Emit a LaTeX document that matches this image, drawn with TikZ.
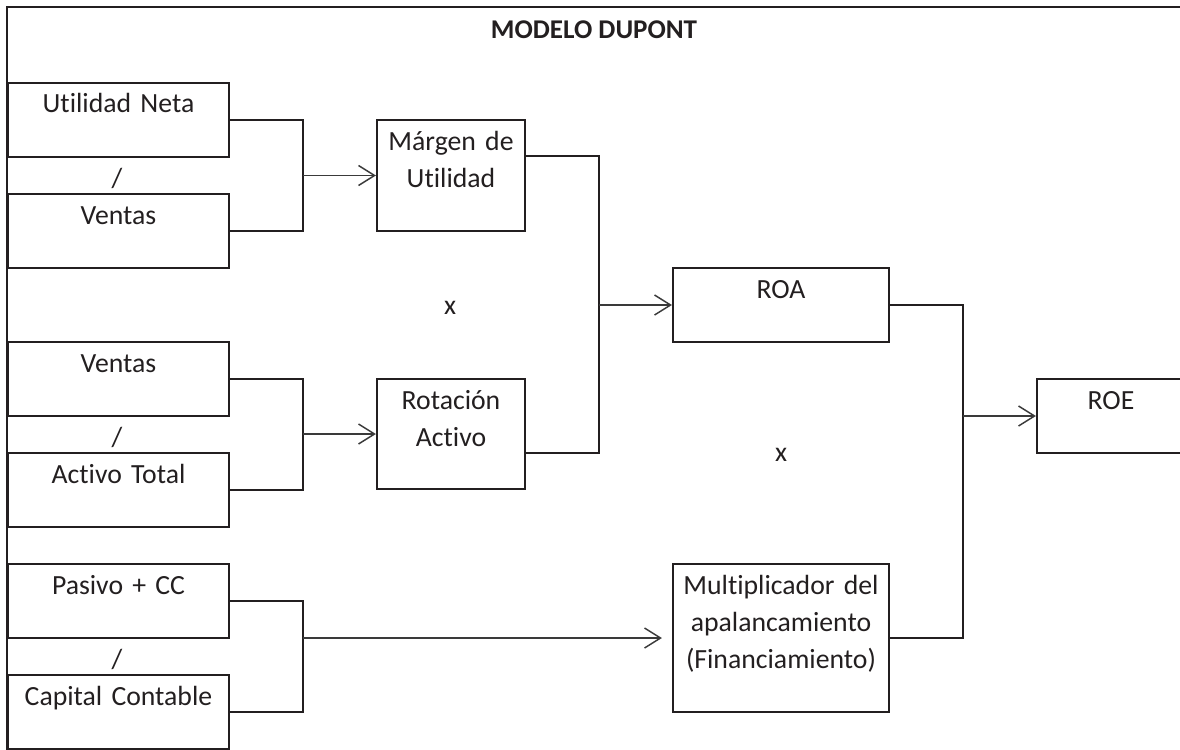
\documentclass[tikz,border=0pt]{standalone}
\usepackage{fontspec}
\setmainfont[Ligatures=NoCommon]{Carlito}
\usetikzlibrary{arrows.meta,fit,calc}
\definecolor{ink}{HTML}{231F20}
\definecolor{wire}{HTML}{3A3A3A}
\begin{document}
\begin{tikzpicture}[x=0.75pt, y=-0.75pt,
  blk/.style={draw=ink, line width=1.65pt, inner sep=0pt},
  lbl/.style={anchor=base, align=center, text width=170pt, inner sep=0pt, text=ink,
              font=\fontsize{20.8pt}{27.75pt}\selectfont},
  sym/.style={inner sep=0pt, text=ink, font=\fontsize{20.8pt}{27.75pt}\selectfont},
  link/.style={draw=ink, line width=1.65pt, line join=miter},
  feed/.style={draw=wire, line width=1.1pt,
               -{Straight Barb[length=12pt,width=15pt,line width=1.1pt]}},
  outline/.style={draw=ink, line width=1.6pt}]
\useasboundingbox (0,0) rectangle (1180,749);
\clip (0,0) rectangle (1180,749);

% outer frame (top and left sides only)
\draw[outline] (1190,7) -- (7,7) -- (7,760);

\node[sym, font=\fontsize{20.3pt}{24pt}\selectfont\bfseries] (title) at (594,30) {MODELO DUPONT};

% ratio inputs
\node[blk, fit={(8,83)(229,157)}] (un) {};
\node[lbl] (un-t) at (118.5,113) {Utilidad Neta};
\node[sym] (d1) at (117,178) {/};
\node[blk, fit={(8,194)(229,268)}] (v1) {};
\node[lbl] (v1-t) at (118.5,224) {Ventas};

\node[blk, fit={(8,342)(229,416)}] (v2) {};
\node[lbl] (v2-t) at (118.5,372) {Ventas};
\node[sym] (d2) at (117,437) {/};
\node[blk, fit={(8,453)(229,527)}] (at) {};
\node[lbl] (at-t) at (118.5,483) {Activo Total};

\node[blk, fit={(8,564)(229,638)}] (pc) {};
\node[lbl] (pc-t) at (118.5,594) {Pasivo + CC};
\node[sym] (d3) at (117,659) {/};
\node[blk, fit={(8,675)(229,749)}] (cc) {};
\node[lbl] (cc-t) at (118.5,705) {Capital Contable};

% intermediate ratios
\node[blk, fit={(377,120)(525,231)}] (marg) {};
\node[lbl] (marg-t) at (451,150) {Márgen de\\Utilidad};
\node[sym] (m1) at (450,308) {x};
\node[blk, fit={(377,379)(525,489)}] (rot) {};
\node[lbl] (rot-t) at (451,409) {Rotación\\Activo};

\node[blk, fit={(673,268)(889,342)}] (roa) {};
\node[lbl] (roa-t) at (781,298) {ROA};
\node[sym] (m2) at (781,455) {x};
\node[blk, fit={(673,564)(889,712)}] (mult) {};
\node[lbl] (mult-t) at (781,594) {Multiplicador del\\apalancamiento\\(Financiamiento)};

\node[blk, fit={(1037,379)(1186,453)}] (roe) {};
\node[lbl] (roe-t) at (1111,409) {ROE};

% bracket columns
\coordinate (ja) at (303,0);
\coordinate (jb) at (599,0);
\coordinate (jc) at (963,0);
\coordinate (mo) at ($(marg.north east)!0.33!(marg.south east)$);
\coordinate (ro) at ($(rot.north east)!0.67!(rot.south east)$);

% brackets
\draw[link] (un.east) -| (ja |- v1.east) -- (v1.east);
\draw[link] (v2.east) -| (ja |- at.east) -- (at.east);
\draw[link] (pc.east) -| (ja |- cc.east) -- (cc.east);
\draw[link] (mo) -| (jb |- ro) -- (ro);
\draw[link] (roa.east) -| (jc |- mult.east) -- (mult.east);

% arrows
\draw[feed] (ja |- marg.west) -- (marg.west);
\draw[feed] (ja |- rot.west) -- (rot.west);
\draw[feed, shorten >=7.5pt] (ja |- mult.west) -- (mult.west);
\draw[feed] (jb |- roa.west) -- (roa.west);
\draw[feed] (jc |- roe.west) -- (roe.west);
\end{tikzpicture}
\end{document}
